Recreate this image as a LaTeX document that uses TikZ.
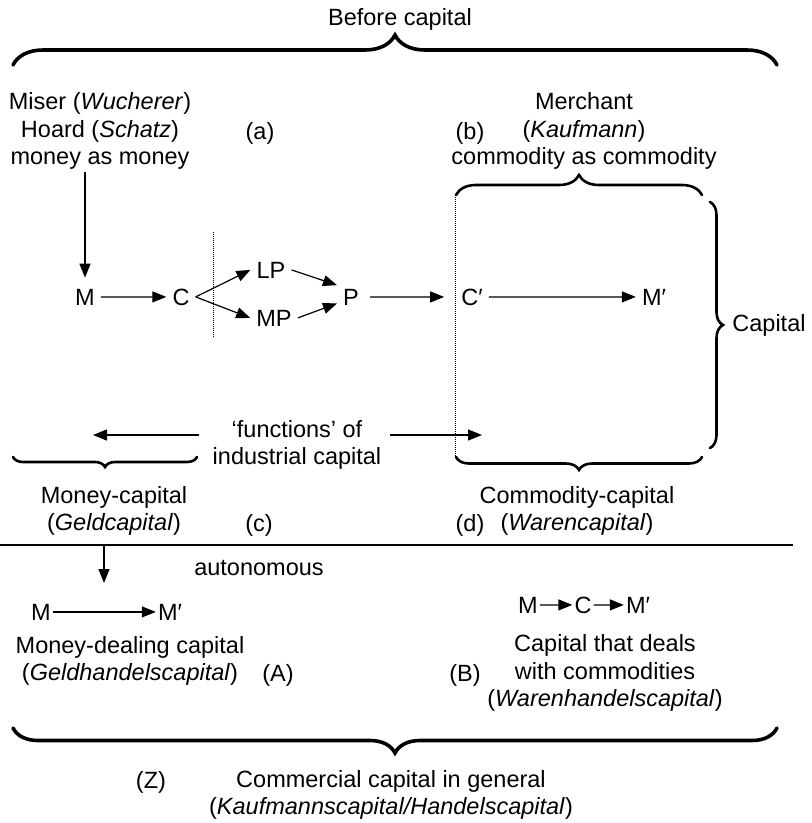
\documentclass[tikz,border=0pt]{standalone}
\usepackage{fontspec}
\setmainfont{Liberation Sans}
\usetikzlibrary{arrows.meta,decorations.pathreplacing}
\newcommand\dfont{\fontsize{23.5pt}{27.5pt}\selectfont}
\begin{document}
\begin{tikzpicture}[x=1pt,y=-1pt,font=\dfont,
  every node/.style={inner sep=3pt},
  lbl/.style={anchor=base},
  blk/.style={align=center},
  sym/.style={anchor=base,inner sep=6pt},
  sm/.style={anchor=base,inner sep=2pt},
  arr/.style={line width=1.2pt,-{Triangle[length=14pt,width=11pt]}},
  brc/.style={decorate,decoration={brace,amplitude=#1},line width=2.6pt,line cap=round},
  bigbrc/.style={decorate,decoration={brace,amplitude=#1},line width=3.6pt,line cap=round},
  dots/.style={line width=0.6pt,dash pattern=on 0.8pt off 1.2pt},
  rule/.style={line width=1.1pt}]
\useasboundingbox (0,0) rectangle (812,823);

% top part
\node[lbl] (title) at (400,25) {Before capital};
\coordinate (tb1) at (13,65); \coordinate (tb2) at (777,65);
\draw[bigbrc=30] (tb1) -- (tb2);

\node[blk] (miser) at (100,131) {Miser (\textit{Wucherer})\\Hoard (\textit{Schatz})\\money as money};
\node[lbl] (la) at (260,139) {(a)};
\node[lbl] (lb) at (470,139) {(b)};
\node[blk] (merch) at (584,131) {Merchant\\(\textit{Kaufmann})\\commodity as commodity};

% circuit
\node[sym] (M) at (85,305) {M};
\node[sym] (C) at (181,305) {C};
\node[sym] (LP) at (271,278) {LP};
\node[sym] (MP) at (274,326) {MP};
\node[sym] (P) at (351,305) {P};
\node[sym] (Cp) at (472,305) {C′};
\node[sym] (Mp) at (654,305) {M′};
\node[lbl] (cap) at (769,331) {Capital};

\coordinate (mtop) at (85,172);
\draw[arr,shorten >=5pt] (mtop) -- (M.north);
\draw[arr] (M) -- (C);
\draw[arr] (C.east) -- (LP.west);
\draw[arr] (C.east) -- (MP.west);
\draw[arr] (LP.east) -- (P.140);
\draw[arr] (MP.east) -- (P.205);
\draw[arr,shorten <=5pt,shorten >=11pt] (P) -- (Cp);
\draw[arr] (Cp) -- (Mp);

\coordinate (d1a) at (213,232); \coordinate (d1b) at (213,338);
\draw[dots] (d1a) -- (d1b);
\coordinate (d2a) at (455,197); \coordinate (d2b) at (455,457);
\draw[dots] (d2a) -- (d2b);

% braces around C'-M'
\coordinate (sb1) at (456,195); \coordinate (sb2) at (702,195);
\draw[brc=20] (sb1) -- (sb2);
\coordinate (rb1) at (710,202); \coordinate (rb2) at (710,448);
\draw[brc=13] (rb1) -- (rb2);
\coordinate (bb1) at (702,457); \coordinate (bb2) at (456,457);
\draw[brc=13] (bb1) -- (bb2);
\coordinate (lb1) at (197,457); \coordinate (lb2) at (13,457);
\draw[brc=10] (lb1) -- (lb2);

% functions
\node[blk] (fn) at (297,445) {‘functions’ of\\industrial capital};
\coordinate (fL1) at (199,435); \coordinate (fL2) at (93,435);
\draw[arr] (fL1) -- (fL2);
\coordinate (fR1) at (390,435); \coordinate (fR2) at (482,435);
\draw[arr] (fR1) -- (fR2);

\node[blk] (mc) at (114,511) {Money-capital\\(\textit{Geldcapital})};
\node[lbl] (lc) at (259,531) {(c)};
\node[blk] (cc) at (577,511) {Commodity-capital\\(\textit{Warencapital})};
\node[lbl] (ld) at (470,531) {(d)};

% rule
\coordinate (hl) at (0,545); \coordinate (hr) at (793,545);
\draw[rule] (hl) -- (hr);

% lower part
\coordinate (dA) at (104,545); \coordinate (dB) at (104,583);
\draw[arr] (dA) -- (dB);
\node[lbl] (auto) at (259,575) {autonomous};
\node[sm] (M2) at (41,620) {M};
\node[sm] (M2p) at (170,620) {M′};
\draw[arr] (M2) -- (M2p);
\node[sm] (M3) at (528,613) {M};
\node[sm] (C3) at (583,613) {C};
\node[sm] (M3p) at (638,613) {M′};
\draw[arr] (M3) -- (C3);
\draw[arr] (C3) -- (M3p);

\node[blk] (mdc) at (130,661) {Money-dealing capital\\(\textit{Geldhandelscapital})};
\node[lbl] (lA) at (278,681) {(A)};
\node[lbl] (lB) at (465,681) {(B)};
\node[blk] (ctd) at (605,673) {Capital that deals\\with commodities\\(\textit{Warenhandelscapital})};

\coordinate (zb1) at (777,728); \coordinate (zb2) at (13,728);
\draw[bigbrc=25] (zb1) -- (zb2);
\node[lbl] (lZ) at (151,788) {(Z)};
\node[blk] (comm) at (391,795) {Commercial capital in general\\(\textit{Kaufmannscapital/Handelscapital})};
\end{tikzpicture}
\end{document}
